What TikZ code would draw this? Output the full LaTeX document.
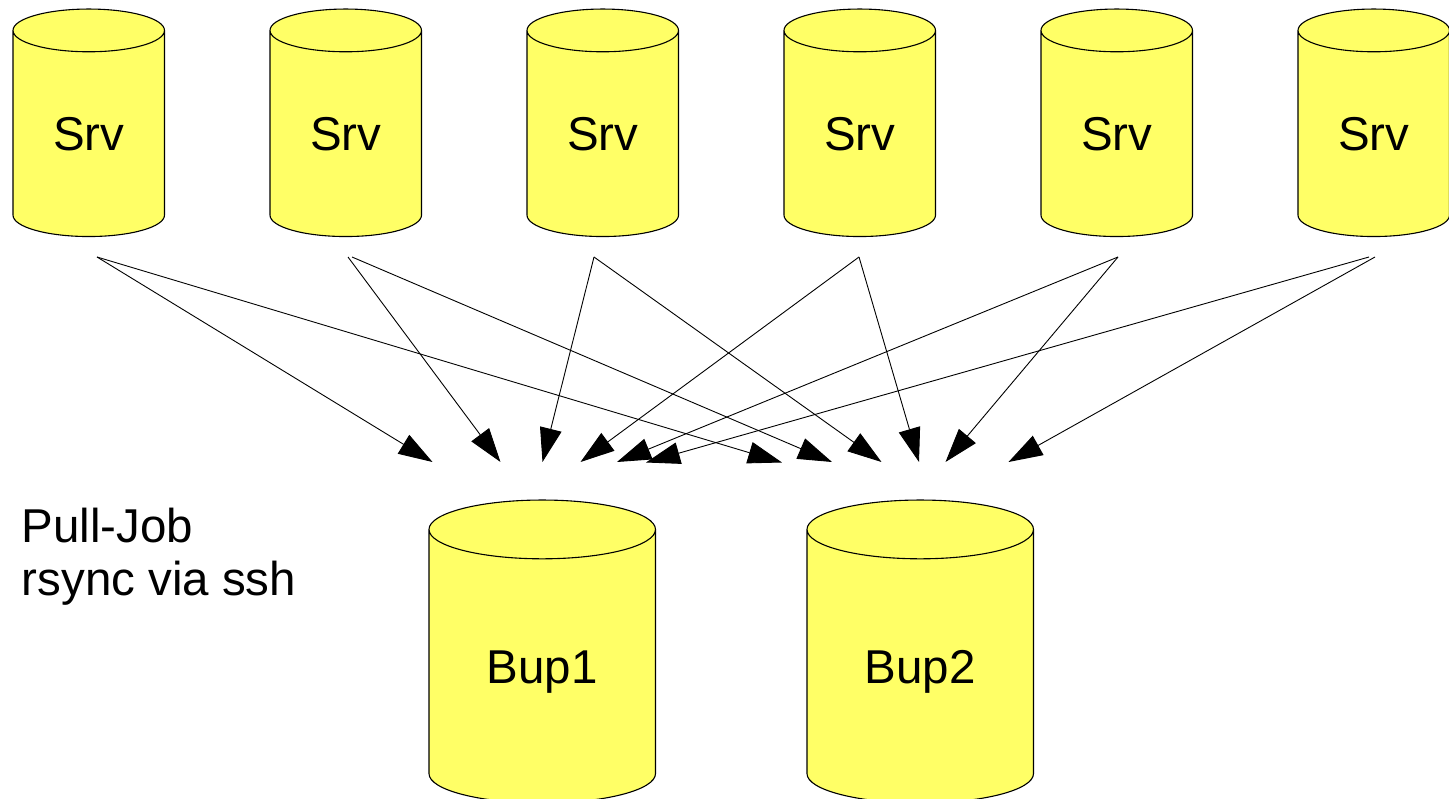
\documentclass[tikz,border=0pt]{standalone}
\usepackage{fontspec}
\setmainfont{Liberation Sans}
\usetikzlibrary{shapes.geometric, arrows.meta}
\definecolor{drumyellow}{HTML}{FFFF66}

\tikzset{
  drum/.style={cylinder, shape border rotate=90, draw=black, fill=drumyellow,
    line width=1.1pt, inner sep=0pt, outer sep=0pt, font=\fontsize{47.5}{53}\selectfont},
  srvdrum/.style={drum, minimum width=151.5pt, minimum height=227.5pt, aspect=0.6},
  bupdrum/.style={drum, minimum width=226.5pt, minimum height=303pt, aspect=0.53,
    text height=44pt, text depth=10pt},
  pull/.style={-{Triangle[length=34pt,width=22pt]}, line width=0.9pt},
}

\begin{document}
\begin{tikzpicture}[x=1pt, y=-1pt]
    \useasboundingbox (0, 0) rectangle (1449, 799);

    % Server drums
    \node[srvdrum] (srv1) at (88.75, 133.75) {Srv};
    \node[srvdrum] (srv2) at (345.75, 133.75) {Srv};
    \node[srvdrum] (srv3) at (602.75, 133.75) {Srv};
    \node[srvdrum] (srv4) at (859.75, 133.75) {Srv};
    \node[srvdrum] (srv5) at (1116.75, 133.75) {Srv};
    \node[srvdrum] (srv6) at (1373.75, 133.75) {Srv};

    % Backup drums
    \node[bupdrum] (bup1) at (542.25, 666.5) {Bup1};
    \node[bupdrum] (bup2) at (920.25, 666.5) {Bup2};

    % Caption
    \node[anchor=north west, align=left, inner sep=0pt, font=\fontsize{47.5}{53}\selectfont] (job) at (21.5, 508) {Pull-Job\\rsync via ssh};

    % Arrow starts below the servers
    \coordinate (out1a) at (97, 257);
    \coordinate (out1b) at (97, 257);
    \coordinate (out2a) at (348, 257);
    \coordinate (out2b) at (352, 257);
    \coordinate (out3a) at (594, 257);
    \coordinate (out3b) at (594, 257);
    \coordinate (out4a) at (859, 257);
    \coordinate (out4b) at (859, 257);
    \coordinate (out5a) at (1118, 257);
    \coordinate (out5b) at (1118, 257);
    \coordinate (out6a) at (1369, 257);
    \coordinate (out6b) at (1375, 257);

    % Arrow ends above Bup1
    \coordinate (in1a) at (432.5, 462);
    \coordinate (in1b) at (500.5, 462);
    \coordinate (in1c) at (542.5, 462);
    \coordinate (in1d) at (580.5, 462);
    \coordinate (in1e) at (617, 462);
    \coordinate (in1f) at (646, 462.5);

    % Arrow ends above Bup2
    \coordinate (in2a) at (782, 462.5);
    \coordinate (in2b) at (832, 462);
    \coordinate (in2c) at (881.5, 462);
    \coordinate (in2d) at (919, 462);
    \coordinate (in2e) at (945.5, 462);
    \coordinate (in2f) at (1008.5, 462);

    % Pull connections
    \draw[pull] (out1a) -- (in1a);
    \draw[pull] (out1b) -- (in2a);
    \draw[pull] (out2a) -- (in1b);
    \draw[pull] (out2b) -- (in2b);
    \draw[pull] (out3a) -- (in1c);
    \draw[pull] (out3b) -- (in2c);
    \draw[pull] (out4a) -- (in1d);
    \draw[pull] (out4b) -- (in2d);
    \draw[pull] (out5a) -- (in1e);
    \draw[pull] (out5b) -- (in2e);
    \draw[pull] (out6a) -- (in1f);
    \draw[pull] (out6b) -- (in2f);
\end{tikzpicture}
\end{document}
